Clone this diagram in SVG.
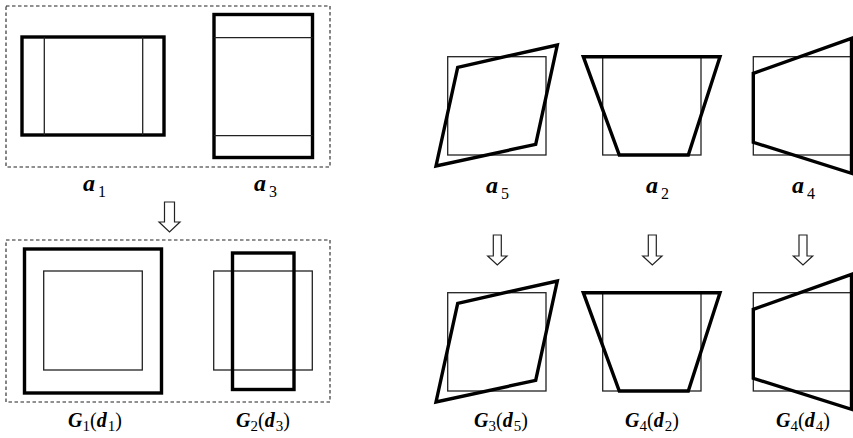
<svg xmlns="http://www.w3.org/2000/svg" width="853" height="438" viewBox="0 0 853 438">
<style>
.thick{fill:none;stroke:#000;stroke-width:3.4;stroke-linejoin:miter}
.thin{fill:none;stroke:#222;stroke-width:1.3}
.dash{fill:none;stroke:#222;stroke-width:1.1;stroke-dasharray:3.5 2.5}
.arrow{fill:#fff;stroke:#222;stroke-width:1.2}
.lbl{font-family:"Liberation Serif","Times New Roman",serif;fill:#000}
.bi{font-weight:bold;font-style:italic}
</style>
<rect width="853" height="438" fill="#fff"/>
<g id="groups">
<rect class="dash" x="6" y="6" width="324" height="161"/>
<rect class="dash" x="6" y="240" width="324" height="162"/>
</g>
<g id="a1">
<rect class="thick" x="22" y="37" width="142" height="98"/>
<line class="thin" x1="44.3" y1="37" x2="44.3" y2="135"/>
<line class="thin" x1="142.7" y1="37" x2="142.7" y2="135"/>
<text class="lbl" x="83" y="191" font-size="24"><tspan class="bi">a</tspan><tspan dx="3" dy="6" font-size="16">1</tspan></text>
</g>
<g id="a3">
<rect class="thick" x="214" y="14.5" width="98.5" height="143"/>
<line class="thin" x1="214" y1="37.7" x2="312.5" y2="37.7"/>
<line class="thin" x1="214" y1="135.7" x2="312.5" y2="135.7"/>
<text class="lbl" x="254" y="191" font-size="24"><tspan class="bi">a</tspan><tspan dx="3" dy="6" font-size="16">3</tspan></text>
</g>
<g id="G1">
<rect class="thick" x="24.5" y="249" width="137" height="144"/>
<rect class="thin" x="43.7" y="271" width="98.6" height="99"/>
<text class="lbl" x="95" y="426.5" font-size="20" text-anchor="middle"><tspan class="bi">G</tspan><tspan dy="4" font-size="15">1</tspan><tspan dy="-4">(</tspan><tspan class="bi">d</tspan><tspan dx="1" dy="4" font-size="15">1</tspan><tspan dy="-4">)</tspan></text>
</g>
<g id="G2">
<rect class="thin" x="213.7" y="271" width="98.6" height="99"/>
<rect class="thick" x="232.5" y="253" width="61.5" height="136.5"/>
<text class="lbl" x="263" y="426.5" font-size="20" text-anchor="middle"><tspan class="bi">G</tspan><tspan dy="4" font-size="15">2</tspan><tspan dy="-4">(</tspan><tspan class="bi">d</tspan><tspan dx="1" dy="4" font-size="15">3</tspan><tspan dy="-4">)</tspan></text>
</g>
<g id="a5">
<rect class="thin" x="447.7" y="56.7" width="98.3" height="98.3"/>
<polygon class="thick" points="436,166 457.7,67.3 557.3,45 535.7,144.3"/>
<text class="lbl" x="486" y="193" font-size="24"><tspan class="bi">a</tspan><tspan dx="3" dy="6" font-size="16">5</tspan></text>
</g>
<g id="a2">
<rect class="thin" x="602.7" y="56.7" width="98.3" height="98.3"/>
<polygon class="thick" points="583.3,56.7 720,56.7 688.3,155 619.3,155"/>
<text class="lbl" x="646" y="193" font-size="24"><tspan class="bi">a</tspan><tspan dx="3" dy="6" font-size="16">2</tspan></text>
</g>
<g id="a4">
<rect class="thin" x="753.3" y="56.7" width="98.3" height="98.3"/>
<polygon class="thick" points="753.3,73.3 851.5,38.3 851.5,173.3 753.3,142.3"/>
<text class="lbl" x="792" y="193" font-size="24"><tspan class="bi">a</tspan><tspan dx="3" dy="6" font-size="16">4</tspan></text>
</g>
<g id="G3">
<rect class="thin" x="447.7" y="292.7" width="98.3" height="98.3"/>
<polygon class="thick" points="436,402 457.7,303.3 557.3,281 535.7,380.3"/>
<text class="lbl" x="501" y="426.5" font-size="20" text-anchor="middle"><tspan class="bi">G</tspan><tspan dy="4" font-size="15">3</tspan><tspan dy="-4">(</tspan><tspan class="bi">d</tspan><tspan dx="1" dy="4" font-size="15">5</tspan><tspan dy="-4">)</tspan></text>
</g>
<g id="G4a">
<rect class="thin" x="602.7" y="292.7" width="98.3" height="98.3"/>
<polygon class="thick" points="583.3,292.7 720,292.7 688.3,391 619.3,391"/>
<text class="lbl" x="652" y="426.5" font-size="20" text-anchor="middle"><tspan class="bi">G</tspan><tspan dy="4" font-size="15">4</tspan><tspan dy="-4">(</tspan><tspan class="bi">d</tspan><tspan dx="1" dy="4" font-size="15">2</tspan><tspan dy="-4">)</tspan></text>
</g>
<g id="G4b">
<rect class="thin" x="753.3" y="292.7" width="98.3" height="98.3"/>
<polygon class="thick" points="753.3,309.3 851.5,274.3 851.5,409.3 753.3,378.3"/>
<text class="lbl" x="803" y="426.5" font-size="20" text-anchor="middle"><tspan class="bi">G</tspan><tspan dy="4" font-size="15">4</tspan><tspan dy="-4">(</tspan><tspan class="bi">d</tspan><tspan dx="1" dy="4" font-size="15">4</tspan><tspan dy="-4">)</tspan></text>
</g>
<g id="connectors">
<polygon class="arrow" points="164.5,202 174.5,202 174.5,222 180,222 169.5,232 159,222 164.5,222"/>
<polygon class="arrow" points="493.3,235 501.3,235 501.3,256 507,256 497.3,265 487.7,256 493.3,256"/>
<polygon class="arrow" points="648.3,235 656.3,235 656.3,256 662,256 652.3,265 642.7,256 648.3,256"/>
<polygon class="arrow" points="799,235 807,235 807,256 812.7,256 803,265 793.3,256 799,256"/>
</g>
</svg>
